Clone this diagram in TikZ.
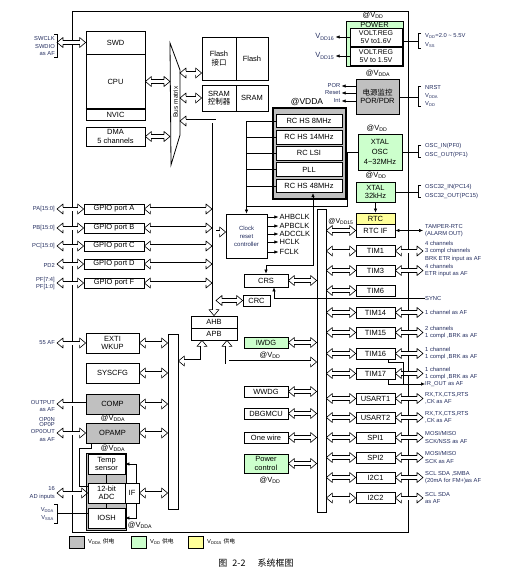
\documentclass[tikz,border=0pt]{standalone}
\usepackage{fontspec}
\setmainfont{Liberation Sans}
\newfontfamily\cjk{Noto Sans CJK SC}
\usetikzlibrary{arrows.meta,positioning}
\definecolor{vddac}{RGB}{192,192,192}
\definecolor{vddc}{RGB}{204,255,204}
\definecolor{vddxc}{RGB}{255,255,153}
\definecolor{lblc}{RGB}{35,45,95}
% open head for the bus arrows
\pgfdeclarearrow{
  name = Hollow,
  parameters = {\the\pgfarrowlength,\the\pgfarrowwidth},
  setup code = {
    \pgfarrowssettipend{0pt}
    \pgfarrowssetlineend{-\pgfarrowlength}
    \pgfarrowssetbackend{-\pgfarrowlength}
    \pgfarrowssetvisualbackend{-\pgfarrowlength}
    \pgfarrowshullpoint{0pt}{0pt}
    \pgfarrowsupperhullpoint{-\pgfarrowlength}{.5\pgfarrowwidth}
    \pgfarrowssavethe\pgfarrowlength
    \pgfarrowssavethe\pgfarrowwidth
  },
  drawing code = {
    \pgfsetlinewidth{.6pt}
    \pgfsetroundjoin
    \pgfpathmoveto{\pgfqpoint{-\pgfarrowlength}{1.8pt}}
    \pgfpathlineto{\pgfqpoint{-\pgfarrowlength}{.5\pgfarrowwidth}}
    \pgfpathlineto{\pgfqpoint{0pt}{0pt}}
    \pgfpathlineto{\pgfqpoint{-\pgfarrowlength}{-.5\pgfarrowwidth}}
    \pgfpathlineto{\pgfqpoint{-\pgfarrowlength}{-1.8pt}}
    \pgfusepathqstroke
  },
  defaults = {length=6pt,width=10pt}
}
\tikzstyle{bx}=[draw,line width=.8pt,fill=white,inner sep=0pt,align=center,font=\fontsize{7.5}{8.5}\selectfont]
\tikzstyle{per}=[bx,minimum width=39,minimum height=11]
\tikzstyle{apbp}=[bx,minimum width=44,minimum height=11]
\tikzstyle{gpio}=[bx,minimum width=60,minimum height=10]
\tikzstyle{blk}=[bx,minimum width=53,minimum height=20]
\tikzstyle{rc}=[bx,minimum width=66,minimum height=13.5]
\tikzstyle{lbl}=[inner sep=0pt,text=lblc,align=left,font=\fontsize{5.8}{7.5}\selectfont]
\tikzstyle{rl}=[lbl,anchor=west,xshift=2pt]
\tikzstyle{ll}=[lbl,anchor=east,align=right]
\tikzstyle{pw}=[inner sep=0pt,font=\fontsize{7.5}{8}\selectfont]
\tikzstyle{hol}=[double=white,double distance=3pt,line width=.6pt,arrows={Hollow-Hollow}]
\tikzstyle{tip}=[line width=.6pt,-{Latex[length=4pt,width=3.5pt]}]

\begin{document}
\begin{tikzpicture}[x=1pt,y=-1pt]
\useasboundingbox (0,0) rectangle (530,584);
\draw[line width=.8pt] (72,11) rectangle (408,532);
\coordinate (pinl) at (57,0); \coordinate (pinr) at (423,0); \coordinate (brr) at (418,0);
\coordinate (bml) at (170,0); \coordinate (bmr) at (180,0);
\coordinate (ahbl) at (212,0); \coordinate (ahbr) at (216,0);

% core
\node[bx,minimum width=59,minimum height=23] (swd) at (115.5,42.5) {SWD};
\node[bx,minimum width=59,minimum height=55] (cpu) at (115.5,81.5) {CPU};
\node[bx,minimum width=59,minimum height=11] (nvic) at (115.5,114.5) {NVIC};
\draw[line width=1.6pt] (nvic.north west) -- (nvic.north east);
\node[bx,minimum width=59,minimum height=19] (dma) at (115.5,136.5) {DMA\\5 channels};
\draw (54,34) -| (57,57) -- (54,57);
\node[ll] (swclk) at (55,39) {SWCLK};
\node[ll] (swdio) at (55,46.5) {SWDIO};
\node[ll] (swaf) at (55,54) {as AF};
\draw[hol] (swd.west) -- (swd.west -| pinl);

% bus matrix
\draw[line width=.8pt,fill=white] (170,43) -- (180,70) -- (180,135) -- (171,165) -- cycle;
\node[rotate=90,inner sep=0pt,font=\fontsize{6.5}{7}\selectfont] (busm) at (175.5,102) {Bus matrix};
\draw[hol] (cpu.east) -- (cpu.east -| bml);
\draw[hol] (dma.east) -- (dma.east -| bml);

% memories
\node[bx,minimum width=34,minimum height=43] (flif) at (219,58.5) {Flash\\{\cjk 接口}};
\node[bx,minimum width=32,minimum height=43] (flash) at (252,58.5) {Flash};
\node[bx,minimum width=34,minimum height=26] (sramc) at (219,98) {SRAM\\{\cjk 控制器}};
\node[bx,minimum width=32,minimum height=26] (sram) at (252,98) {SRAM};
\draw[hol] (flif.west |- 0,73) -- (bmr |- 0,73);
\draw[hol] (sramc.west) -- (sramc.west -| bmr);

% power
\node[pw] (vddp) at (373,15) {@V\textsubscript{DD}};
\node[bx,fill=vddc,minimum width=57,minimum height=45] (power) at (374.5,43.5) {};
\node[pw] (powt) at (374.5,24.5) {POWER};
\node[bx,minimum width=52,minimum height=18,font=\fontsize{7}{8.5}\selectfont] (vr16) at (376,37) {VOLT.REG\\5V to1.6V};
\node[bx,minimum width=52,minimum height=18,font=\fontsize{7}{8.5}\selectfont] (vr15) at (376,56) {VOLT.REG\\5V to 1.5V};
\draw[tip] (vr16.west) -- ++(-14,0) node[left=1pt,pw,text=lblc] (vdd16) {V\textsubscript{DD16}};
\draw[tip] (vr15.west) -- ++(-14,0) node[left=1pt,pw,text=lblc] (vdd15) {V\textsubscript{DD15}};
\draw (power.east |- 0,41) -- (brr |- 0,41);
\draw (421,33) -| (418,48) -- (421,48);
\node[rl] (vin) at (423,36) {V\textsubscript{DD}=2.0 \textasciitilde{} 5.5V};
\node[rl] (vss) at (423,45) {V\textsubscript{SS}};

% supervisor
\node[pw] (vddap) at (378,73) {@V\textsubscript{DDA}};
\node[bx,fill=vddac,minimum width=43,minimum height=35] (por) at (377.5,96.5) {{\cjk 电源监控}\\POR/PDR};
\foreach \t/\y in {POR/86,Reset/93,Int/101}
  \draw[tip] (por.west |- 0,\y) -- ++(-14,0) node[lbl,left=1pt] (\t) {\t};
\draw (por.east |- 0,97) -- (brr |- 0,97);
\draw (421,86) -| (418,106) -- (421,106);
\node[rl] (nrst) at (423,88) {NRST};
\node[rl] (pvdda) at (423,96) {V\textsubscript{DDA}};
\node[rl] (pvdd) at (423,104) {V\textsubscript{DD}};

% oscillators
\node[pw,font=\fontsize{8.5}{9}\selectfont] (vddarc) at (307,102) {@VDDA};
\node[bx,fill=vddac,line width=1.2pt,minimum width=73,minimum height=91] (rcg) at (309.5,153.5) {};
\node[rc] (rc8) at (309,121) {RC HS 8MHz};
\node[rc] (rc14) at (309,137.2) {RC HS 14MHz};
\node[rc] (rclsi) at (309,153.4) {RC LSI};
\node[rc] (pll) at (309,169.6) {PLL};
\node[rc] (rc48) at (309,186) {RC HS 48MHz};

\node[pw] (vddx) at (377,128) {@V\textsubscript{DD}};
\node[bx,fill=vddc,minimum width=44,minimum height=36,font=\fontsize{7.5}{10}\selectfont] (xosc) at (380,152) {XTAL\\OSC\\4\textasciitilde32MHz};
\draw (xosc.east) -- (xosc.east -| brr);
\draw (421,145) -| (418,157) -- (421,157);
\node[rl] (oscin) at (423,146) {OSC\_IN(PF0)};
\node[rl] (oscout) at (423,155) {OSC\_OUT(PF1)};

\node[pw] (vddx32) at (376,175) {@V\textsubscript{DD}};
\node[bx,fill=vddc,minimum width=39,minimum height=20] (x32) at (375.5,192) {XTAL\\32kHz};
\draw (x32.east) -- (x32.east -| brr);
\draw (421,185) -| (418,197) -- (421,197);
\node[rl] (osc32in) at (423,187) {OSC32\_IN(PC14)};
\node[rl] (osc32out) at (423,196) {OSC32\_OUT(PC15)};

% clocks
\node[bx,minimum width=41,minimum height=44,text=lblc,font=\fontsize{6}{8}\selectfont] (ckc) at (246.5,236) {Clock\\reset\\controller};
\draw[tip] (rc8.west) -| (ckc.north);
\foreach \n in {rc14,rclsi,pll,rc48} \draw (\n.west) -- (\n.west -| ckc.north);
\draw (xosc.west) -- ++(-10,0) |- (ckc.north |- 0,206);
\foreach \t/\y in {AHBCLK/217,APBCLK/226,ADCCLK/234,HCLK/242,FCLK/252}
  \draw[tip] (ckc.east |- 0,\y) -- ++(11,0) node[right=1pt,pw] (\t) {\t};

% AHB side
\node[bx,minimum width=46,minimum height=12] (ahb) at (214,322) {AHB};
\node[bx,minimum width=46,minimum height=12] (apb) at (214,334) {APB};
\draw[hol] (ahb.north) |- (bmr |- 0,121);
\foreach \n/\t/\y in {gpa/A/209,gpb/B/228,gpc/C/246,gpd/D/264,gpf/F/283}{
  \node[gpio] (\n) at (114,\y) {GPIO port \t};
  \draw[hol] (\n.west) -- (\n.west -| pinl);
  \draw[hol] (\n.east) -- (\n.east -| ahbl);
}
\node[ll] (pa) at (55,209) {PA[15:0]};
\node[ll] (pb) at (55,228) {PB[15:0]};
\node[ll] (pc) at (55,246) {PC[15:0]};
\node[ll] (pd) at (55,265) {PD2};
\node[ll] (pf) at (55,283.5) {PF[7:4]\\PF[1:0]};
\draw[hol,arrows={-Hollow}] (ahbr |- 0,232) -- (ckc.west |- 0,232);
\node[bx,minimum width=27,minimum height=11] (crc) at (256.5,300.5) {CRC};
\draw[hol] (crc.west) -- (crc.west -| ahbr);

% APB bars
\node[draw,line width=.8pt,fill=white,minimum width=10,minimum height=175,inner sep=0pt] (lbar) at (173,421.5) {};
\node[draw,line width=.8pt,fill=white,minimum width=9,minimum height=303,inner sep=0pt] (rbar) at (321.5,360.5) {};
\draw[hol] ([xshift=-12pt]apb.south) |- (lbar.east |- 0,361);
\draw[hol] ([xshift=13pt]apb.south) |- (rbar.west |- 0,362);

\node[apbp,minimum height=13] (crs) at (266,280.5) {CRS};
\draw[{Latex[length=4pt,width=3.5pt]}-{Latex[length=4pt,width=3.5pt]},line width=.6pt] ([xshift=4pt]rc48.south) |- (crs.north |- 0,265) -- (crs.north);
\node[lbl,anchor=west] (sync) at (425,298) {SYNC};
\draw[tip] (sync.west) -| ([xshift=8pt]crs.south);

\node[apbp,fill=vddc] (iwdg) at (266,342.5) {IWDG};
\node[pw] (vddiw) at (270,355) {@V\textsubscript{DD}};
\node[apbp] (wwdg) at (266,391.5) {WWDG};
\node[apbp] (dbg) at (266,413.5) {DBGMCU};
\node[apbp] (ow) at (266,437.5) {One wire};
\node[apbp,fill=vddc,minimum height=19] (pwrc) at (266,463.5) {Power\\control};
\node[pw] (vddpc) at (270,480) {@V\textsubscript{DD}};
\foreach \n in {crs,iwdg,wwdg,dbg,ow,pwrc} \draw[hol] (\n.east) -- (\n.east -| rbar.west);

% peripherals
\node[per,fill=vddxc] (rtc) at (375.5,218.5) {RTC};
\node[per,minimum height=13] (rtcif) at (375.5,230.5) {RTC IF};
\draw[tip] (x32.south) -- (rtc.north);
\draw[hol] (rtcif.west) -- (rtcif.west -| rbar.east);
\node[pw,font=\fontsize{7}{8}\selectfont] (vdd15l) at (341,221) {@V\textsubscript{DD15}};
\draw[{Latex[length=4pt,width=3.5pt]}-{Latex[length=4pt,width=3.5pt]},line width=.6pt] (rtcif.east) -- (rtcif.east -| pinr);
\node[rl] (tamp) at (rtcif.east -| pinr) {TAMPER-RTC\\(ALARM OUT)};
\foreach \n/\t/\y in {tim1/TIM1/251,tim3/TIM3/270.5,tim6/TIM6/290.5,tim14/TIM14/312.5,tim15/TIM15/332.5,tim16/TIM16/353.5,tim17/TIM17/373.5,us1/USART1/398.5,us2/USART2/417.5,spi1/SPI1/437.5,spi2/SPI2/457.5,ic1/I2C1/477.5,ic2/I2C2/498}{
  \node[per] (\n) at (375.5,\y) {\t};
  \draw[hol] (\n.west) -- (\n.west -| rbar.east);
}
\foreach \n in {tim1,tim3,tim14,tim15,tim16,tim17,us1,us2,spi1,spi2,ic1,ic2}
  \draw[hol] (\n.east) -- (\n.east -| pinr);
\node[rl] (l1) at (tim1.east -| pinr) {4 channels\\3 compl channels\\BRK ETR input as AF};
\node[rl] (l3) at (tim3.east -| pinr) {4 channels\\ETR input as AF};
\node[rl] (l14) at (tim14.east -| pinr) {1 channel as AF};
\node[rl] (l15) at (tim15.east -| pinr) {2 channels\\1 compl ,BRK as AF};
\node[rl] (l16) at (tim16.east -| pinr) {1 channel\\1 compl ,BRK as AF};
\node[rl] (l17) at (tim17.east -| pinr) {1 channel\\1 compl ,BRK as AF};
\node[rl] (lu1) at (us1.east -| pinr) {RX,TX,CTS,RTS\\,CK as AF};
\node[rl] (lu2) at (us2.east -| pinr) {RX,TX,CTS,RTS\\,CK as AF};
\node[rl] (ls1) at (spi1.east -| pinr) {MOSI/MISO\\SCK/NSS as AF};
\node[rl] (ls2) at (spi2.east -| pinr) {MOSI/MISO\\SCK as AF};
\node[rl] (li1) at (ic1.east -| pinr) {SCL SDA ,SMBA\\(20mA for FM+)as AF};
\node[rl] (li2) at (ic2.east -| pinr) {SCL SDA\\as AF};
\node[lbl,anchor=west] (irout) at (425,384) {IR\_OUT as AF};
\coordinate (irj) at (403,384);
\draw ([xshift=-7pt]tim16.south east) -- ++(0,3) -| (irj);
\draw[tip] ([xshift=-7pt]tim17.south east) |- (irout.west);

% analog
\node[blk] (exti) at (112.5,343) {EXTI\\WKUP};
\node[blk] (syscfg) at (112.5,373) {SYSCFG};
\node[blk,fill=vddac] (comp) at (112.5,404) {COMP};
\node[blk,fill=vddac] (opamp) at (112.5,433) {OPAMP};
\node[pw] (vddcmp) at (113,418.5) {@V\textsubscript{DDA}};
\node[pw] (vddop) at (113,448.5) {@V\textsubscript{DDA}};
\foreach \n in {exti,syscfg,comp,opamp} \draw[hol] (\n.east) -- (\n.east -| lbar.west);
\draw[hol] (exti.west) -- (exti.west -| pinl);
\draw[hol,arrows={-Hollow}] (comp.west) -- (comp.west -| pinl);
\draw[hol] (opamp.west) -- (opamp.west -| pinl);
\node[ll] (af55) at (55,343) {55 AF};
\node[ll] (outaf) at (55,406) {OUTPUT\\as AF};
\node[ll] (opn) at (55,419) {OP0N};
\node[ll] (opp) at (55,431.5) {OP0P\\OP0OUT\\as AF};

\node[bx,fill=vddac,minimum width=40,minimum height=77] (adcg) at (106,491.5) {};
\node[bx,minimum width=37,minimum height=20] (temp) at (106.5,464) {Temp\\sensor};
\node[bx,minimum width=37,minimum height=20] (adc) at (106.5,493) {12-bit\\ADC};
\node[bx,minimum width=37,minimum height=20] (iosh) at (106.5,518) {IOSH};
\node[bx,minimum width=14,minimum height=20] (ifb) at (132,493) {IF};
\draw (temp.south) -- (adc.north);
\draw (adc.south) -- (iosh.north);
\draw[tip] ([xshift=4pt]ifb.north) |- (temp.east);
\draw[tip] ([xshift=4pt]ifb.south) |- (iosh.east);
\draw[hol] (ifb.east) -- (ifb.east -| lbar.west);
\draw[hol] (adc.west) -- (adc.west -| pinl);
\draw ([xshift=6pt]opamp.south west) |- (79,448) |- ([yshift=7pt]adc.west);
\node[pw] (vddadc) at (140,525) {@V\textsubscript{DDA}};
\node[ll] (adin) at (55,493) {16\\AD inputs};
\draw (54,504) -| (57,523) -- (54,523);
\draw (pinl |- 0,513) -- (iosh.west |- 0,513);
\node[ll] (vref) at (54,514) {V\textsubscript{DDA}\\V\textsubscript{SSA}};

% legend
\node[draw,fill=vddac,minimum width=15,minimum height=12,inner sep=0pt] (lg1) at (76.5,542) {};
\node[lbl,anchor=west,text=black] (lt1) at (88,542) {V\textsubscript{DDA} {\cjk 供电}};
\node[draw,fill=vddc,minimum width=15,minimum height=12,inner sep=0pt] (lg2) at (138.5,542) {};
\node[lbl,anchor=west,text=black] (lt2) at (150,542) {V\textsubscript{DD} {\cjk 供电}};
\node[draw,fill=vddxc,minimum width=15,minimum height=12,inner sep=0pt] (lg3) at (195.5,542) {};
\node[lbl,anchor=west,text=black] (lt3) at (207,542) {V\textsubscript{DD15} {\cjk 供电}};
\node[inner sep=0pt,font=\cjk\fontsize{9}{10}\selectfont] (cap) at (256,563) {图\hspace{5pt}2-2\hspace{12pt}系统框图};
\end{tikzpicture}
\end{document}
